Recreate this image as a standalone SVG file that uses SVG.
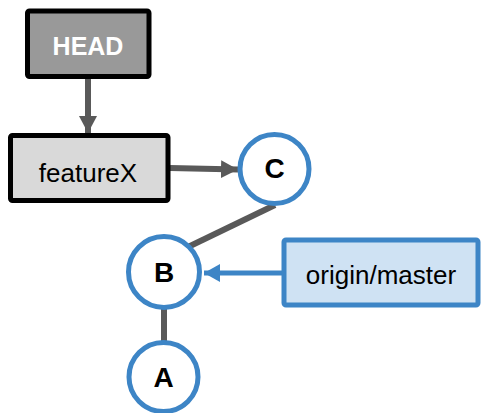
<svg xmlns="http://www.w3.org/2000/svg" width="483" height="413" viewBox="0 0 483 413">
<style>
.lbl{font-family:"Liberation Sans",Arial,sans-serif;font-size:26px;text-anchor:middle}
.b{font-weight:bold}
.big{font-size:28px}
.commit{fill:#fff;stroke:#3d85c6;stroke-width:5}
.gline{stroke:#595959;stroke-width:6;fill:none}
</style>
<defs>
<marker id="ag" markerUnits="userSpaceOnUse" markerWidth="18" markerHeight="18" refX="17" refY="9" orient="auto"><path d="M0,0 L17,9 L0,18 Z" fill="#595959"/></marker>
<marker id="ab" markerUnits="userSpaceOnUse" markerWidth="18" markerHeight="18" refX="16" refY="9" orient="auto"><path d="M16,0 L0,9 L16,18 Z" fill="#3d85c6" transform="rotate(180 8 9)"/></marker>
</defs>
<g id="connectors">
<line class="gline" x1="88" y1="79" x2="88" y2="133" marker-end="url(#ag)"/>
<line class="gline" x1="170" y1="168" x2="238" y2="169.5" marker-end="url(#ag)"/>
<line class="gline" x1="275" y1="205" x2="188" y2="247"/>
<line class="gline" x1="164" y1="309" x2="164" y2="341"/>
<line x1="283" y1="273" x2="204" y2="273" stroke="#3d85c6" stroke-width="5" marker-end="url(#ab)"/>
</g>
<g id="HEAD">
<rect x="27.5" y="11" width="121.5" height="65.5" rx="2" fill="#999999" stroke="#000" stroke-width="5"/>
<text class="lbl b" x="88" y="55" fill="#fff" style="font-size:25px">HEAD</text>
</g>
<g id="featureX">
<rect x="10.5" y="135.5" width="157.5" height="65" rx="2" fill="#d9d9d9" stroke="#000" stroke-width="5"/>
<text class="lbl" x="88" y="182">featureX</text>
</g>
<g id="C">
<circle class="commit" cx="274.5" cy="169" r="34.5"/>
<text class="lbl b big" x="274.5" y="178">C</text>
</g>
<g id="B">
<circle class="commit" cx="164" cy="272" r="35.5"/>
<text class="lbl b big" x="164" y="282">B</text>
</g>
<g id="A">
<circle class="commit" cx="163.5" cy="377" r="34.5"/>
<text class="lbl b big" x="163.5" y="387">A</text>
</g>
<g id="origin-master">
<rect x="284" y="240" width="194" height="65" rx="2" fill="#cfe2f3" stroke="#3d85c6" stroke-width="5"/>
<text class="lbl" x="381" y="284">origin/master</text>
</g>
</svg>
